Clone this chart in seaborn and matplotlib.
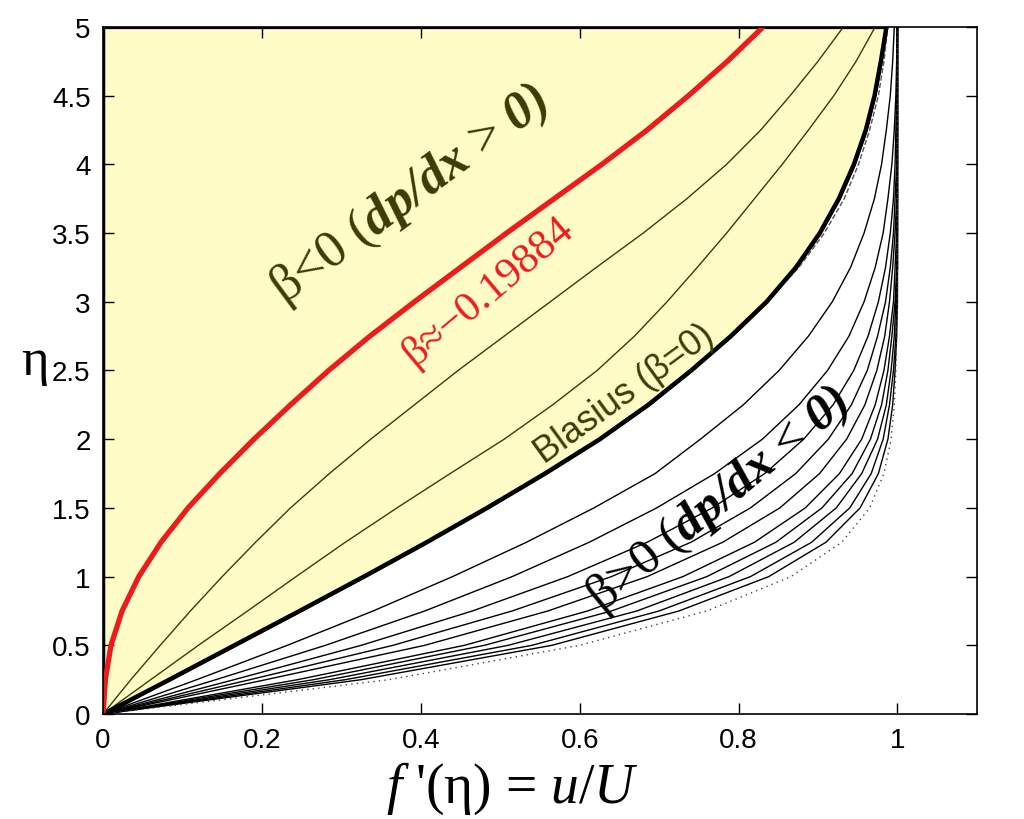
import numpy as np
import pandas as pd
import matplotlib
matplotlib.use("Agg")
import matplotlib.pyplot as plt
import seaborn as sns

# eta grid shared by every profile
eta = [0, 0.25, 0.5, 0.75, 1.0, 1.25, 1.5, 1.75, 2.0, 2.25, 2.5,
       2.75, 3.0, 3.25, 3.5, 3.75, 4.0, 4.25, 4.5, 4.75, 5.0]

# separation profile (red)
sep = [0, .003, .010, .024, .045, .073, .107, .147, .190, .236, .284,
       .336, .392, .450, .508, .568, .628, .685, .737, .786, .831]
# adverse gradient profiles (olive)
neg1 = [0, .035, .072, .110, .150, .192, .236, .285, .337, .392, .447,
        .505, .563, .621, .680, .735, .785, .828, .865, .900, .932]
neg2 = [0, .060, .120, .182, .243, .305, .370, .437, .505, .566, .622,
        .669, .710, .748, .785, .820, .855, .888, .920, .948, .972]
# Blasius (thick) and a dashed reference copy
blasius = [0, .083, .165, .247, .328, .407, .483, .556, .625, .686, .740,
           .790, .835, .872, .902, .926, .945, .960, .971, .979, .986]
blasius_ref = [0, .083, .165, .247, .328, .407, .483, .556, .625, .686, .740,
               .790, .836, .876, .908, .933, .951, .965, .976, .983, .988]
# favourable gradient profiles (thin black), last one dotted
pos = [
    [0, .118, .232, .340, .440, .533, .618, .695, .752, .806, .851,
     .888, .918, .941, .958, .971, .980, .986, .991, .994, .996],
    [0, .142, .280, .405, .515, .612, .697, .770, .830, .876, .912,
     .939, .958, .972, .982, .988, .993, .996, .998, .999, 1.0],
    [0, .165, .325, .465, .585, .685, .767, .833, .882, .919, .945,
     .963, .976, .985, .991, .995, .997, .998, .999, 1.0, 1.0],
    [0, .185, .365, .515, .640, .740, .815, .872, .913, .942, .962,
     .975, .985, .991, .995, .997, .999, 1.0, 1.0, 1.0, 1.0],
    [0, .205, .405, .560, .685, .780, .852, .902, .936, .959, .974,
     .984, .990, .994, .997, .999, 1.0, 1.0, 1.0, 1.0, 1.0],
    [0, .245, .455, .610, .730, .820, .884, .927, .955, .972, .983,
     .990, .995, .997, .999, 1.0, 1.0, 1.0, 1.0, 1.0, 1.0],
    [0, .265, .480, .640, .760, .847, .905, .943, .966, .980, .988,
     .993, .997, .999, 1.0, 1.0, 1.0, 1.0, 1.0, 1.0, 1.0],
    [0, .285, .510, .672, .788, .870, .923, .955, .975, .986, .992,
     .996, .998, 1.0, 1.0, 1.0, 1.0, 1.0, 1.0, 1.0, 1.0],
    [0, .305, .540, .700, .815, .892, .940, .967, .982, .990, .995,
     .998, .999, 1.0, 1.0, 1.0, 1.0, 1.0, 1.0, 1.0, 1.0],
    [0, .325, .565, .725, .838, .910, .953, .976, .988, .994, .997,
     .999, 1.0, 1.0, 1.0, 1.0, 1.0, 1.0, 1.0, 1.0, 1.0],
]
dotted = [0, .360, .600, .760, .866, .930, .965, .983, .992, .996, .998,
          .999, 1.0, 1.0, 1.0, 1.0, 1.0, 1.0, 1.0, 1.0, 1.0]

xticks = [0, 0.2, 0.4, 0.6, 0.8, 1.0]
xticklabels = ["0", "0.2", "0.4", "0.6", "0.8", "1"]
yticks = [0, 0.5, 1, 1.5, 2, 2.5, 3, 3.5, 4, 4.5, 5]
yticklabels = ["0", "0.5", "1", "1.5", "2", "2.5", "3", "3.5", "4", "4.5", "5"]

YELLOW = "#FFFCC8"
OLIVE = "#3C3C00"
RED = "#EC1C1C"

sns.set_style("ticks")
plt.rcParams['font.family'] = ['Liberation Sans', 'DejaVu Sans']
plt.rcParams['text.color'] = 'black'
plt.rcParams['xtick.color'] = 'black'
plt.rcParams['ytick.color'] = 'black'
plt.rcParams['axes.edgecolor'] = 'black'
plt.rcParams['mathtext.fontset'] = 'custom'
plt.rcParams['mathtext.rm'] = 'Liberation Serif'
plt.rcParams['mathtext.it'] = 'Liberation Serif:italic'
plt.rcParams['mathtext.bf'] = 'Liberation Serif:italic:bold'

fig, ax = plt.subplots(figsize=(10.24, 8.2), dpi=100)
fig.subplots_adjust(left=0.1006, right=0.954, bottom=0.128, top=0.966)

# yellow region between wall and the Blasius profile
ax.fill_betweenx(eta, 0, blasius, facecolor=YELLOW, edgecolor="black",
                 linewidth=2.5, zorder=0.5)

rows = []
def add(name, vals):
    for e, v in zip(eta, vals):
        rows.append({"curve": name, "eta": e, "fp": v})

add("sep", sep)
add("neg1", neg1)
add("neg2", neg2)
add("blasius", blasius)
add("blasius_ref", blasius_ref)
for i, p in enumerate(pos):
    add("pos%d" % i, p)
add("dotted", dotted)
df = pd.DataFrame(rows)

def draw(name, **kw):
    sns.lineplot(data=df[df["curve"] == name], x="fp", y="eta", ax=ax,
                 estimator=None, sort=False, legend=False, **kw)

for i in range(len(pos)):
    draw("pos%d" % i, color="black", linewidth=1.0)
draw("dotted", color="#444444", linewidth=1.0, linestyle=(0, (1, 3)))
draw("neg1", color=OLIVE, linewidth=1.0)
draw("neg2", color=OLIVE, linewidth=1.0)
draw("blasius_ref", color="#555555", linewidth=1.0, linestyle="--")
draw("blasius", color="black", linewidth=3.0)
draw("sep", color=RED, linewidth=3.8)

ax.set_xlim(0, 1.1)
ax.set_ylim(0, 5)
ax.set_xticks(xticks)
ax.set_xticklabels(xticklabels)
ax.set_yticks(yticks)
ax.set_yticklabels(yticklabels)
ax.tick_params(direction="in", length=8, width=1, top=True, right=True,
               labelsize=20, pad=9)
for s in ax.spines.values():
    s.set_linewidth(1.2)
ax.set_xlabel("")
ax.set_ylabel("")

ax.text(0.468, -0.108, "$f$ '(η) = $u/U$", transform=ax.transAxes,
        ha="center", va="center", fontsize=40, family="Liberation Serif")
ax.text(-0.078, 0.514, "η", transform=ax.transAxes, ha="center",
        va="center", fontsize=38, family="Liberation Serif")

ax.text(0.387, 3.78, r"β<0 ($\mathbf{dp/dx}$ > $\mathbf{0)}$", color=OLIVE,
        fontsize=38, family="Liberation Serif", rotation=36.5,
        rotation_mode="anchor", ha="center", va="center")
ax.text(0.484, 3.08, "β≈−0.19884", color=RED, fontsize=31,
        family="Liberation Serif", rotation=40, rotation_mode="anchor",
        ha="center", va="center")
ax.text(0.657, 2.33, "Blasius (β=0)", color=OLIVE, fontsize=26,
        rotation=36, rotation_mode="anchor", ha="center", va="center")
ax.text(0.775, 1.565, r"β>0 ($\mathbf{dp/dx}$ < $\mathbf{0)}$", color="black",
        fontsize=37, family="Liberation Serif", rotation=39.5,
        rotation_mode="anchor", ha="center", va="center")

fig.savefig("out.png", dpi=100)
